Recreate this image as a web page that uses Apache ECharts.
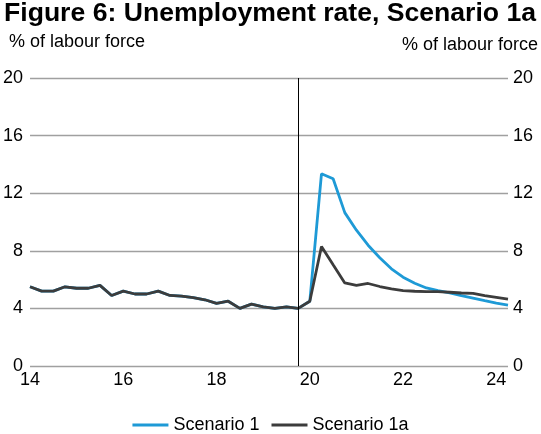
<!DOCTYPE html>
<html><head><meta charset="utf-8">
<script src="https://cdn.jsdelivr.net/npm/echarts@6/dist/echarts.min.js"></script>
<style>html,body{margin:0;padding:0;background:#fff}#c{width:541px;height:434px}</style>
</head><body><div id="c"></div>
<script>
// Quarterly observations, 2014Q1 .. 2024Q2 (x in years since 2000)
const startYear = 14;
const scenario1 = [5.5,5.2,5.2,5.5,5.4,5.4,5.6,4.9,5.2,5.0,5.0,5.2,4.9,4.85,4.75,4.6,4.35,4.5,4.0,4.3,4.1,4.0,4.1,4.0,
  4.5,13.35,13.0,10.65,9.43,8.39,7.52,6.75,6.17,5.75,5.42,5.24,5.07,4.89,4.72,4.54,4.37,4.23];
const scenario1a = [5.5,5.2,5.2,5.5,5.4,5.4,5.6,4.9,5.2,5.0,5.0,5.2,4.9,4.85,4.75,4.6,4.35,4.5,4.0,4.3,4.1,4.0,4.1,4.0,
  4.5,8.3,7.03,5.77,5.6,5.73,5.52,5.35,5.24,5.19,5.17,5.17,5.12,5.07,5.05,4.89,4.77,4.65];
const seriesNames = ['Scenario 1','Scenario 1a'];
const xTicks = [14,16,18,20,22,24];
const forecastStart = 19.75;

const toPairs = arr => arr.map((v,i)=>[startYear + i/4, v]);
const font = '"Liberation Sans", Arial, sans-serif';

const chart = echarts.init(document.getElementById('c'));
chart.setOption({
  animation:false,
  backgroundColor:'#fff',
  textStyle:{fontFamily:font},
  grid:{left:30,right:33,top:78,bottom:68,containLabel:false},
  graphic:[
    {type:'text',left:4,top:0,style:{text:'Figure 6: Unemployment rate, Scenario 1a',font:'bold 26.6px '+font,fill:'#000'}},
    {type:'text',left:9,top:33,style:{text:'% of labour force',font:'18px '+font,fill:'#000'}},
    {type:'text',right:3,top:36,style:{text:'% of labour force',font:'18px '+font,fill:'#000'}}
  ],
  legend:{
    top:411,left:'center',
    data:seriesNames,
    icon:'rect',itemWidth:36,itemHeight:3,itemGap:12,
    textStyle:{fontSize:18,color:'#000',fontFamily:font}
  },
  xAxis:{
    type:'value',min:14,max:24.25,interval:2,
    axisLine:{show:false},axisTick:{show:false},splitLine:{show:false},
    axisLabel:{fontSize:18,color:'#000',margin:5,
      customValues:xTicks,
      formatter:v=>String(v)}
  },
  yAxis:[
    {type:'value',min:0,max:20,interval:4,position:'left',
     axisLine:{show:false},axisTick:{show:false},
     splitLine:{show:true,lineStyle:{color:'#a0a0a0',width:1.3}},
     axisLabel:{fontSize:18,color:'#000',margin:7}},
    {type:'value',min:0,max:20,interval:4,position:'right',
     axisLine:{show:false},axisTick:{show:false},splitLine:{show:false},
     axisLabel:{fontSize:18,color:'#000',margin:5}}
  ],
  series:[
    {name:seriesNames[0],type:'line',data:toPairs(scenario1),showSymbol:false,symbol:'none',
     color:'#1e9ad6',lineStyle:{width:2.8,color:'#1e9ad6'},z:2,
     markLine:{silent:true,symbol:'none',label:{show:false},
       lineStyle:{color:'#000',width:1,type:'solid'},data:[{xAxis:forecastStart}]}},
    {name:seriesNames[1],type:'line',data:toPairs(scenario1a),showSymbol:false,symbol:'none',
     color:'#3c3c3c',lineStyle:{width:2.8,color:'#3c3c3c'},z:3}
  ]
});
</script></body></html>
